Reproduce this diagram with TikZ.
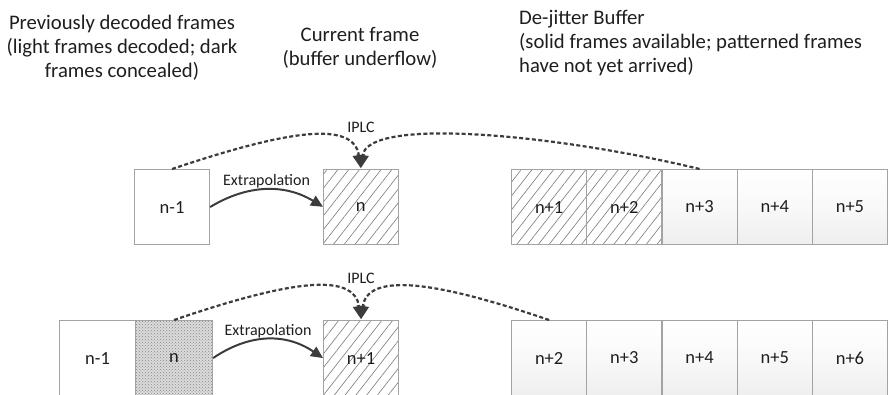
\documentclass[tikz,border=0pt]{standalone}
\usepackage{fontspec}
\setmainfont{Carlito}
\usetikzlibrary{arrows.meta,patterns,patterns.meta}
\definecolor{bordergray}{HTML}{A3A3A3}
\definecolor{arrowgray}{HTML}{3C3C3C}
\definecolor{txt}{HTML}{1E1E1E}
\begin{document}
\begin{tikzpicture}[x=1pt,y=-1pt,
  every node/.style={text=txt},
  frame/.style={draw=bordergray,line width=1.1pt,minimum height=75pt,inner sep=0pt,
    anchor=north west,font=\fontsize{18.5}{20}\selectfont},
  plain/.style={frame,fill=white},
  avail/.style={frame,top color=white,bottom color=gray!13,middle color=gray!5},
  missing/.style={frame,pattern={Lines[angle=52,distance=8.5pt,line width=0.65pt]},pattern color=gray},
  concealed/.style={frame,preaction={fill=gray!28},pattern=crosshatch dots,pattern color=gray!95},
  header/.style={font=\fontsize{20.7}{24}\selectfont,inner sep=0pt},
  small/.style={font=\fontsize{16}{18}\selectfont,inner sep=0pt},
  extra/.style={draw=arrowgray,line width=2pt,-{Triangle[length=12pt,width=11pt]}},
  iplc/.style={draw=arrowgray,line width=2.2pt,dash pattern=on 4pt off 2.4pt,
    -{Triangle[length=13pt,width=12pt]},shorten >=1pt},
]
\useasboundingbox (0,0) rectangle (888,395);

% headers
\node[header,align=center,anchor=north] (h1) at (122,15)
  {Previously decoded frames\\(light frames decoded; dark\\frames concealed)};
\node[header,align=center,anchor=north] (h2) at (360,27)
  {Current frame\\(buffer underflow)};
\node[header,align=left,anchor=north west] (h3) at (519,10)
  {De-jitter Buffer\\(solid frames available; patterned frames\\have not yet arrived)};

% row 1
\node[plain,minimum width=75pt] (r1a) at (134,169) {n-1};
\node[missing,minimum width=75pt] (r1b) at (323,169) {n};
\node[missing,minimum width=75.2pt] (r1c) at (511,169) {n+1};
\node[missing,minimum width=75.2pt] (r1d) at (586.2,169) {n+2};
\node[avail,minimum width=75.2pt] (r1e) at (661.4,169) {n+3};
\node[avail,minimum width=75.2pt] (r1f) at (736.6,169) {n+4};
\node[avail,minimum width=75.2pt] (r1g) at (811.8,169) {n+5};

\draw[extra] (r1a.east) .. controls +(38,-23) and +(-38,-23) .. (r1b.west)
  node[pos=0.5,small,anchor=south,yshift=0.5pt] (x1) {Extrapolation};
\node[small] (i1) at (361,127) {IPLC};
\draw[iplc] (r1a.north) .. controls +(119,-40) and +(-7,-48) .. (r1b.north);
\draw[iplc] (r1e.north) .. controls +(-140,-34) and +(7,-53) .. (r1b.north);

% row 2
\node[plain,minimum width=76pt] (r2a) at (59,320) {n-1};
\node[concealed,minimum width=77pt] (r2b) at (135,320) {n};
\node[missing,minimum width=75pt] (r2c) at (323,320) {n+1};
\node[avail,minimum width=75.2pt] (r2d) at (511,320) {n+2};
\node[avail,minimum width=75.2pt] (r2e) at (586.2,320) {n+3};
\node[avail,minimum width=75.2pt] (r2f) at (661.4,320) {n+4};
\node[avail,minimum width=75.2pt] (r2g) at (736.6,320) {n+5};
\node[avail,minimum width=75.2pt] (r2h) at (811.8,320) {n+6};

\draw[extra] (r2b.east) .. controls +(37,-25) and +(-37,-25) .. (r2c.west)
  node[pos=0.5,small,anchor=south,yshift=0.5pt] (x2) {Extrapolation};
\node[small] (i2) at (361,278) {IPLC};
\draw[iplc] (r2b.north) .. controls +(117,-40) and +(-7,-48) .. (r2c.north);
\draw[iplc] (r2d.north) .. controls +(-88,-30) and +(7,-54) .. (r2c.north);
\end{tikzpicture}
\end{document}
